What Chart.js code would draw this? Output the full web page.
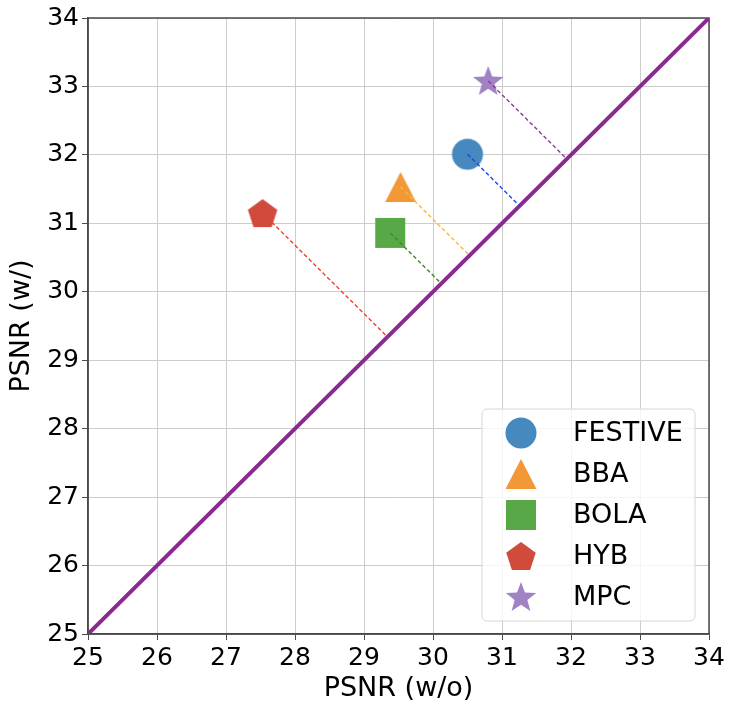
<!DOCTYPE html>
<html>
<head>
    <title>PSNR with / without</title>
    <script src="https://cdn.jsdelivr.net/npm/chart.js"></script>
    <style>
        body { margin: 0; background: #fff; }
        canvas { display: block; }
    </style>
</head>
<body>
    <canvas id="psnrChart" width="735" height="711"></canvas>

    <script>
        // Values
        const methods = ['FESTIVE', 'BBA', 'BOLA', 'HYB', 'MPC'];
        const psnrWithout = [30.50, 29.53, 29.38, 27.53, 30.80];
        const psnrWith = [32.01, 31.53, 30.86, 31.15, 33.08];
        const axisMin = 25;
        const axisMax = 34;

        const shapes = ['circle', 'triangle', 'square', 'pentagon', 'star'];
        const markerColors = ['#4589be', '#f29837', '#58a848', '#d04b3c', '#a082c5'];
        const dashColors = ['#2040f0', '#f5bb40', '#3d8a2c', '#e8432c', '#8e3a9c'];

        // Build a marker image, since Chart.js has no pentagon or filled star
        function makeMarker(shape, color) {
            const c = document.createElement('canvas');
            c.width = 34; c.height = 34;
            const g = c.getContext('2d');
            g.fillStyle = color;
            g.translate(17, 17);
            g.beginPath();
            if (shape === 'circle') {
                g.arc(0, 0, 15.5, 0, Math.PI * 2);
            } else if (shape === 'triangle') {
                g.moveTo(0, -15); g.lineTo(15.5, 15); g.lineTo(-15.5, 15);
            } else if (shape === 'square') {
                g.rect(-15, -15, 30, 30);
            } else {
                const n = shape === 'star' ? 10 : 5;
                const R = shape === 'star' ? 16 : 15.5;
                for (let i = 0; i < n; i++) {
                    const r = (shape === 'star' && i % 2) ? R * 0.42 : R;
                    const a = -Math.PI / 2 + i * Math.PI * 2 / n;
                    g.lineTo(r * Math.cos(a), r * Math.sin(a) + (shape === 'pentagon' ? 1.5 : 1));
                }
            }
            g.closePath();
            g.fill();
            return c;
        }
        const markers = shapes.map((s, i) => makeMarker(s, markerColors[i]));

        const datasets = [];
        // dashed drop lines onto the diagonal, drawn over the markers
        methods.forEach((m, i) => {
            const foot = (psnrWithout[i] + psnrWith[i]) / 2;
            datasets.push({
                type: 'line',
                label: m + ' drop',
                data: [{ x: psnrWithout[i], y: psnrWith[i] }, { x: foot, y: foot }],
                borderColor: dashColors[i],
                borderWidth: 1.4,
                borderDash: [4, 2.5],
                pointRadius: 0,
                order: 0
            });
        });
        methods.forEach((m, i) => {
            datasets.push({
                type: 'scatter',
                label: m,
                data: [{ x: psnrWithout[i], y: psnrWith[i] }],
                pointStyle: markers[i],
                pointRadius: 16,
                order: 1
            });
        });
        datasets.push({
            type: 'line',
            label: 'y = x',
            data: [{ x: axisMin, y: axisMin }, { x: axisMax, y: axisMax }],
            borderColor: '#8a2a8f',
            borderWidth: 4,
            pointRadius: 0,
            order: 2
        });

        // Frame around the plot area
        const framePlugin = {
            id: 'frame',
            beforeDatasetsDraw(chart) {
                const { ctx, chartArea: a } = chart;
                ctx.save();
                ctx.strokeStyle = '#4a4a4a';
                ctx.lineWidth = 1.5;
                ctx.strokeRect(a.left, a.top, a.right - a.left, a.bottom - a.top);
                ctx.restore();
            }
        };

        // Legend drawn inside the plot, lower right
        const insideLegend = {
            id: 'insideLegend',
            afterDatasetsDraw(chart) {
                const { ctx, chartArea: a } = chart;
                const w = 213, h = 212;
                const x0 = a.right - 14 - w, y0 = a.bottom - 13 - h;
                ctx.save();
                ctx.beginPath();
                ctx.roundRect(x0, y0, w, h, 5);
                ctx.fillStyle = 'rgba(255,255,255,0.8)';
                ctx.fill();
                ctx.strokeStyle = '#d6d6d6';
                ctx.lineWidth = 1;
                ctx.stroke();
                ctx.font = '27px "DejaVu Sans"';
                ctx.fillStyle = '#000';
                ctx.textBaseline = 'middle';
                methods.forEach((m, i) => {
                    const cy = y0 + 24 + i * 41;
                    ctx.drawImage(markers[i], x0 + 39 - 17, cy - 17);
                    ctx.fillText(m, x0 + 91, cy + 1);
                });
                ctx.restore();
            }
        };

        const ticks = { font: { size: 25 }, color: '#000', padding: 3, stepSize: 1 };
        const grid = { color: '#cccccc', lineWidth: 1, tickLength: 6, tickColor: '#4a4a4a' };

        const ctx = document.getElementById('psnrChart').getContext('2d');
        Chart.defaults.font.family = '"DejaVu Sans"';
        new Chart(ctx, {
            type: 'scatter',
            data: { datasets: datasets },
            options: {
                responsive: false,
                animation: false,
                layout: { padding: { top: 18, right: 26, left: 0, bottom: 0 } },
                plugins: { legend: { display: false }, tooltip: { enabled: false } },
                scales: {
                    x: {
                        type: 'linear', min: axisMin, max: axisMax,
                        ticks: ticks, grid: grid,
                        border: { color: '#4a4a4a', width: 1.5 },
                        title: { display: true, text: 'PSNR (w/o)', font: { size: 27 }, color: '#000', padding: { top: 0, bottom: 6 } },
                        afterFit(scale) { scale.height = 77; }
                    },
                    y: {
                        type: 'linear', min: axisMin, max: axisMax,
                        ticks: ticks, grid: grid,
                        border: { color: '#4a4a4a', width: 1.5 },
                        title: { display: true, text: 'PSNR (w/)', font: { size: 27 }, color: '#000', padding: { top: 6, bottom: 0 } },
                        afterFit(scale) { scale.width = 88; }
                    }
                }
            },
            plugins: [framePlugin, insideLegend]
        });
    </script>
</body>
</html>
